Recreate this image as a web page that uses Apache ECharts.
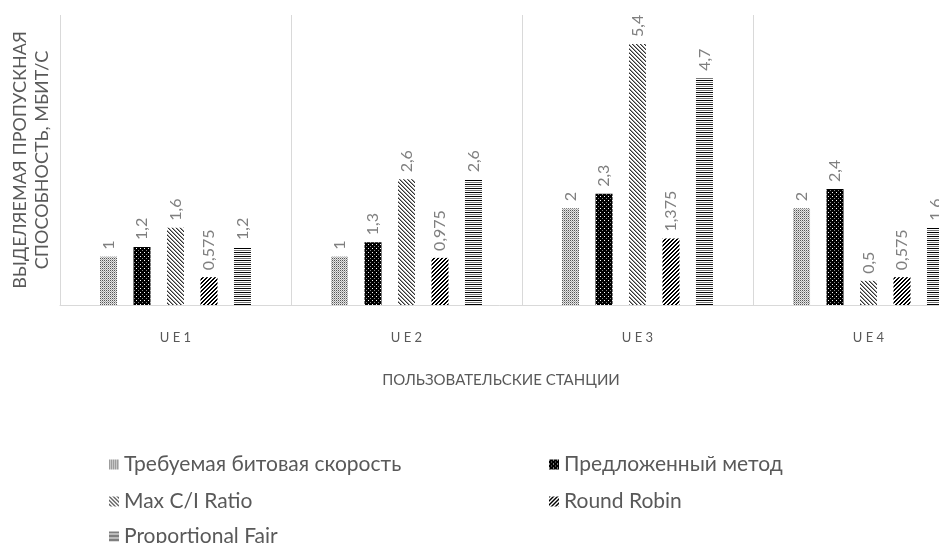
<!DOCTYPE html>
<html>
<head>
<meta charset="utf-8">
<script src="https://cdn.jsdelivr.net/npm/echarts@6/dist/echarts.min.js"></script>
<style>
  html, body { margin: 0; padding: 0; background: #fff; }
  #container { width: 939px; height: 543px; }
</style>
</head>
<body>
<div id="container"></div>
<script>
var categories = ['UE1', 'UE2', 'UE3', 'UE4'];
var seriesNames = ['Требуемая битовая скорость', 'Предложенный метод', 'Max C/I Ratio', 'Round Robin', 'Proportional Fair'];
var required = [1, 1, 2, 2];
var proposed = [1.2, 1.3, 2.3, 2.4];
var maxCI = [1.6, 2.6, 5.4, 0.5];
var roundRobin = [0.575, 0.975, 1.375, 0.575];
var propFair = [1.2, 2.6, 4.7, 1.6];

// small canvas tiles used as hatch fills
function makePattern(w, h, draw) {
    var c = document.createElement('canvas');
    c.width = w; c.height = h;
    var ctx = c.getContext('2d');
    draw(ctx);
    return { image: c, repeat: 'repeat' };
}
function px(ctx, x, y, col) { ctx.fillStyle = col; ctx.fillRect(x, y, 1, 1); }

var patDotted = makePattern(2, 2, function (ctx) {
    ctx.fillStyle = '#e6e6e6'; ctx.fillRect(0, 0, 2, 2);
    px(ctx, 0, 0, '#555'); px(ctx, 1, 1, '#aaa');
});
var patBlack = makePattern(4, 4, function (ctx) {
    ctx.fillStyle = '#000'; ctx.fillRect(0, 0, 4, 4);
    px(ctx, 0, 0, '#fff'); px(ctx, 2, 2, '#888');
});
var patDiagDown = makePattern(4, 4, function (ctx) {
    ctx.fillStyle = '#fff'; ctx.fillRect(0, 0, 4, 4);
    for (var i = 0; i < 4; i++) { px(ctx, i, i, '#333'); px(ctx, (i + 1) % 4, i, '#999'); }
});
var patDiagUp = makePattern(4, 4, function (ctx) {
    ctx.fillStyle = '#fff'; ctx.fillRect(0, 0, 4, 4);
    for (var i = 0; i < 4; i++) { px(ctx, 3 - i, i, '#000'); px(ctx, (4 - i) % 4, i, '#000'); }
});
var patHoriz = makePattern(4, 4, function (ctx) {
    ctx.fillStyle = '#fff'; ctx.fillRect(0, 0, 4, 4);
    ctx.fillStyle = '#000'; ctx.fillRect(0, 0, 4, 1);
    ctx.fillStyle = '#777'; ctx.fillRect(0, 2, 4, 1);
});

var fills = [patDotted, patBlack, patDiagDown, patDiagUp, patHoriz];
var values = [required, proposed, maxCI, roundRobin, propFair];

var font = 'Lato, "Open Sans", sans-serif';

var dom = document.getElementById('container');
var myChart = echarts.init(dom);

var series = seriesNames.map(function (name, i) {
    return {
        name: name,
        type: 'bar',
        data: values[i],
        barWidth: 17,
        barGap: '97%',
        itemStyle: { color: fills[i] },
        label: {
            show: true,
            position: 'top',
            rotate: 90,
            align: 'left',
            verticalAlign: 'middle',
            distance: 7,
            color: '#7f7f7f',
            fontSize: 16,
            fontFamily: font,
            formatter: function (p) { return String(p.value).replace('.', ','); }
        }
    };
});

// legend laid out in two columns like the original
var legendPos = [[109, 454], [549, 454], [109, 491], [549, 491], [109, 526]];
var legends = seriesNames.map(function (name, i) {
    return {
        data: [name],
        left: legendPos[i][0],
        top: legendPos[i][1],
        padding: 0,
        icon: 'rect',
        itemWidth: 10,
        itemHeight: 10,
        itemGap: 6,
        textStyle: { color: '#595959', fontSize: 21, fontFamily: font }
    };
});

option = {
    animation: false,
    backgroundColor: '#fff',
    grid: { left: 60, top: 15, width: 924, height: 290, containLabel: false, outerBoundsMode: 'none' },
    legend: legends,
    xAxis: {
        type: 'category',
        data: categories,
        axisLine: { lineStyle: { color: '#d9d9d9' } },
        axisTick: { show: false },
        splitLine: { show: true, interval: 0, lineStyle: { color: '#d9d9d9' } },
        axisLabel: {
            color: '#595959',
            fontSize: 13,
            margin: 26,
            fontFamily: font,
            formatter: function (v) { return v.split('').join(' '); }
        },
        name: 'ПОЛЬЗОВАТЕЛЬСКИЕ СТАНЦИИ',
        nameLocation: 'middle',
        nameGap: 68,
        nameTextStyle: { color: '#595959', fontSize: 15, fontFamily: font, padding: [0, 42, 0, 0] }
    },
    yAxis: {
        type: 'value',
        min: 0,
        max: 6,
        axisLine: { show: false },
        axisTick: { show: false },
        axisLabel: { show: false },
        splitLine: { show: false },
        name: 'ВЫДЕЛЯЕМАЯ ПРОПУСКНАЯ\nСПОСОБНОСТЬ, МБИТ/С',
        nameLocation: 'middle',
        nameRotate: 90,
        nameGap: 7,
        nameTextStyle: { color: '#595959', fontSize: 18, lineHeight: 22, fontFamily: font }
    },
    series: series
};

myChart.setOption(option);
</script>
</body>
</html>
